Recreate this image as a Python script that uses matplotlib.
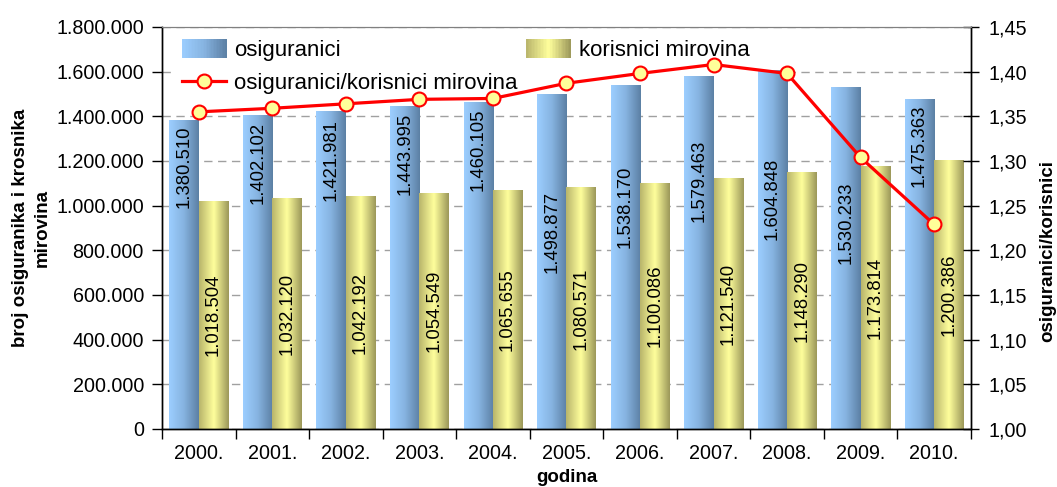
import numpy as np
import matplotlib.pyplot as plt
from matplotlib.colors import LinearSegmentedColormap
from matplotlib.patches import Rectangle
from matplotlib.legend_handler import HandlerBase
from matplotlib.ticker import FuncFormatter, FixedLocator

plt.rcParams['font.family'] = ['Liberation Sans', 'DejaVu Sans']

# podaci
godine = ['2000.', '2001.', '2002.', '2003.', '2004.', '2005.',
          '2006.', '2007.', '2008.', '2009.', '2010.']
osiguranici = [1380510, 1402102, 1421981, 1443995, 1460105, 1498877,
               1538170, 1579463, 1604848, 1530233, 1475363]
korisnici = [1018504, 1032120, 1042192, 1054549, 1065655, 1080571,
             1100086, 1121540, 1148290, 1173814, 1200386]
omjer = [1.355, 1.359, 1.364, 1.369, 1.370, 1.387,
         1.398, 1.408, 1.398, 1.304, 1.229]

# sredine oznaka na plavim stupcima (rucno pomaknute kao u originalu)
oznake_y = [1173000, 1191000, 1204000, 1231000, 1249000, 882000,
            994000, 1110000, 1030000, 922000, 1267000]

cmap_plava = LinearSegmentedColormap.from_list('plava', ['#9CCEFF', '#86B3E0', '#5C80A4'])
cmap_zuta = LinearSegmentedColormap.from_list(
    'zuta', [(0, '#B9B56B'), (0.5, '#FFFF9C'), (1, '#9C985A')])


def tocke(v):
    return f"{int(round(v)):,}".replace(',', '.')


class GradientHandler(HandlerBase):
    def __init__(self, cmap):
        super().__init__()
        self.cmap = cmap

    def create_artists(self, legend, orig_handle, xdescent, ydescent,
                       width, height, fontsize, trans):
        n = 30
        out = []
        for k in range(n):
            r = Rectangle((-xdescent + width * k / n, -ydescent - 1),
                          width / n + 0.3, height + 2,
                          facecolor=self.cmap((k + 0.5) / n), edgecolor='none',
                          transform=trans)
            out.append(r)
        return out


fig = plt.figure(figsize=(10.57, 4.87), dpi=100)
ax = fig.add_axes([0.1533, 0.1191, 0.7652, 0.8255])
ax2 = ax.twinx()

x = np.arange(len(godine))
sirina = 0.4
b1 = ax.bar(x - sirina / 2, osiguranici, sirina, color='none', zorder=2)
b2 = ax.bar(x + sirina / 2, korisnici, sirina, color='none', zorder=2)

grad = np.linspace(0, 1, 64).reshape(1, -1)
for bars, cm in ((b1, cmap_plava), (b2, cmap_zuta)):
    for p in bars:
        x0, w, h = p.get_x(), p.get_width(), p.get_height()
        ax.imshow(grad, cmap=cm, aspect='auto', extent=[x0, x0 + w, 0, h],
                  zorder=2, interpolation='bilinear')

for p, v, yo in zip(b1, osiguranici, oznake_y):
    ax.text(p.get_x() + p.get_width() / 2, yo, tocke(v), rotation=90,
            ha='center', va='center', fontsize=13.3, zorder=3)
for p, v in zip(b2, korisnici):
    ax.text(p.get_x() + p.get_width() / 2, p.get_height() / 2, tocke(v),
            rotation=90, ha='center', va='center', fontsize=13.3, zorder=3)

ax.set_xlim(-0.5, len(godine) - 0.5)
ax.set_ylim(0, 1800000)
ax.set_yticks(np.arange(0, 1800001, 200000))
ax.yaxis.set_major_formatter(FuncFormatter(lambda v, p: tocke(v)))
ax.set_xticks(x)
ax.set_xticklabels(godine)
ax.xaxis.set_minor_locator(FixedLocator(np.arange(-0.5, len(godine), 1)))
ax.tick_params(axis='x', which='major', length=0, pad=11, labelsize=14.2)
ax.tick_params(axis='x', which='minor', length=7, width=1, direction='out')
ax.tick_params(axis='y', length=7, width=1, direction='out', pad=6, labelsize=14.2)
ax.set_axisbelow(True)
ax.yaxis.grid(True, linestyle=(0, (6, 4)), color='#A0A0A0', linewidth=1)

ln, = ax2.plot(x, omjer, color='#FF0000', linewidth=2.3, marker='o', markersize=10,
               markerfacecolor='#FFFF99', markeredgecolor='#FF0000',
               markeredgewidth=1.5, zorder=4)
ax2.set_ylim(1.00, 1.45)
ax2.set_yticks(np.arange(1.00, 1.451, 0.05))
ax2.yaxis.set_major_formatter(FuncFormatter(lambda v, p: f"{v:.2f}".replace('.', ',')))
ax2.tick_params(axis='y', length=12, width=1, direction='inout', pad=7, labelsize=14.2)

for a in (ax, ax2):
    a.spines['top'].set_color('#808080')
    for s in ('left', 'right', 'bottom'):
        a.spines[s].set_linewidth(1)

ax.set_ylabel('broj osiguranika i krosnika\nmirovina', fontsize=13.5,
              fontweight='bold', linespacing=1.4)
ax.yaxis.set_label_coords(-0.137, 0.5)
ax.set_xlabel('godina', fontsize=13.5, fontweight='bold')
ax.xaxis.set_label_coords(0.5, -0.1)
ax2.set_ylabel('osiguranici/korisnici', fontsize=13.5, fontweight='bold')
ax2.yaxis.set_label_coords(1.085, 0.443)

h1 = Rectangle((0, 0), 1, 1)
h2 = Rectangle((0, 0), 1, 1)
leg = ax.legend([h1, ln, h2],
                ['osiguranici', 'osiguranici/korisnici mirovina', 'korisnici mirovina'],
                handler_map={h1: GradientHandler(cmap_plava), h2: GradientHandler(cmap_zuta)},
                ncol=2, loc='upper left', bbox_to_anchor=(0.008, 1.0),
                fontsize=16, frameon=True, framealpha=1, facecolor='white',
                edgecolor='none', fancybox=False, handlelength=2.0,
                handletextpad=0.35, labelspacing=0.53, columnspacing=0.4,
                borderpad=0.5, borderaxespad=0.1)
leg.set_zorder(1.5)

fig.savefig('out.png', dpi=100)
